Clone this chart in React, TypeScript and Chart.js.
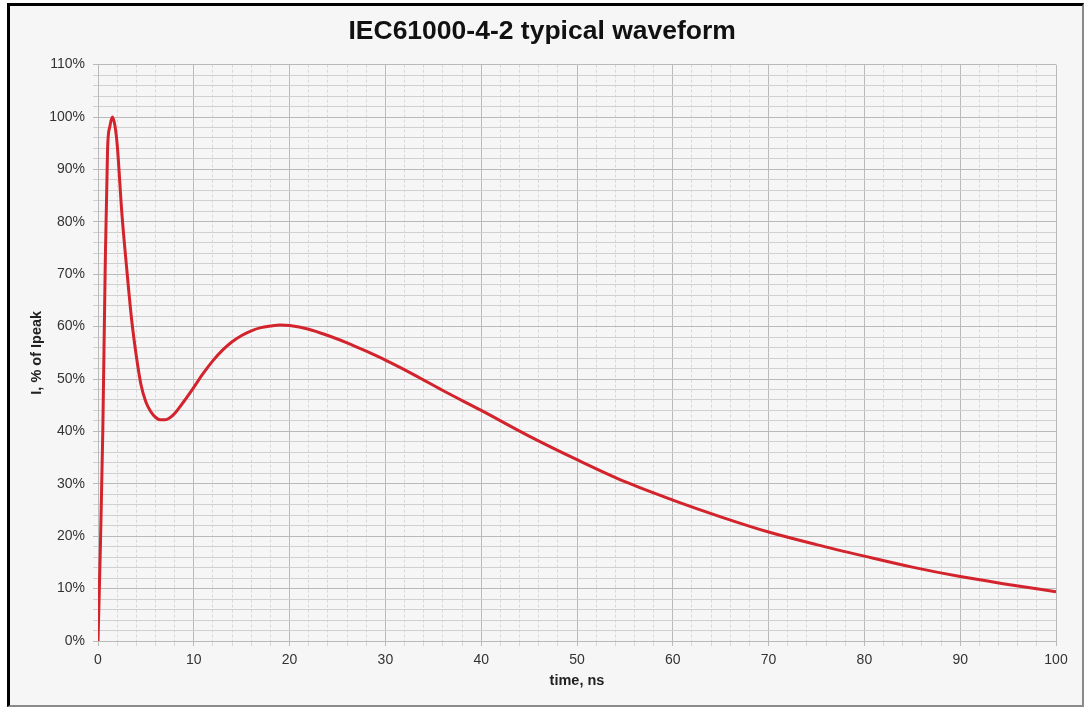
import React, { useEffect, useRef } from "react";
import { Chart, registerables } from "chart.js";

Chart.register(...registerables);

const TITLE = "IEC61000-4-2 typical waveform";
const X_TITLE = "time, ns";
const Y_TITLE = "I, % of Ipeak";

// time in ns
const timeNs = [
  0, 0.25, 0.5, 0.75, 1.0, 1.25, 1.5, 1.75, 2.0, 2.5, 3.0, 3.5, 4.0, 4.5, 5.0,
  5.5, 6.0, 6.5, 7.0, 7.5, 8.0, 9.0, 10, 11, 12, 13, 14, 15, 16, 17, 18, 19,
  20, 22, 24, 26, 28, 30, 33, 36, 40, 45, 50, 55, 60, 65, 70, 75, 80, 85, 90,
  95, 100,
];
// current in % of Ipeak
const currentPct = [
  0, 18, 40, 71, 94, 98.3, 100, 98.5, 94.8, 81.4, 71, 61.5, 54.4, 48.8, 45.6,
  43.8, 42.7, 42.2, 42.2, 42.6, 43.4, 45.8, 48.4, 51.1, 53.5, 55.5, 57.1, 58.3,
  59.2, 59.8, 60.1, 60.3, 60.2, 59.5, 58.3, 56.9, 55.3, 53.6, 50.8, 47.8, 44.0,
  39.1, 34.6, 30.4, 26.9, 23.7, 20.8, 18.4, 16.2, 14.1, 12.3, 10.8, 9.4,
];

const X_MIN = 0;
const X_MAX = 100;
const Y_MIN = 0;
const Y_MAX = 110;
const MINOR_STEP = 2;
const MAJOR_STEP = 10;

const FONT = "'Liberation Sans', Arial, Helvetica, sans-serif";
const MAJOR_COLOR = "#bababa";
const MINOR_H_COLOR = "#d0d0d0";
const MINOR_V_COLOR = "#d8d8d8";

function isMajor(v: number) {
  return Math.abs(Math.round(v) % MAJOR_STEP) === 0;
}

export default function App() {
  const canvasRef = useRef<HTMLCanvasElement | null>(null);

  useEffect(() => {
    const canvas = canvasRef.current;
    if (!canvas) return;
    const points = timeNs.map((t, i) => ({ x: t, y: currentPct[i] }));

    const chart = new Chart(canvas, {
      type: "line",
      data: {
        datasets: [
          {
            label: "I",
            data: points,
            borderColor: "#d3232c",
            borderWidth: 3,
            pointRadius: 0,
            fill: false,
            cubicInterpolationMode: "monotone",
          },
        ],
      },
      options: {
        animation: false,
        responsive: false,
        maintainAspectRatio: false,
        layout: { padding: { left: 28.3, right: 30, top: 0, bottom: 20.3 } },
        plugins: {
          legend: { display: false },
          tooltip: { enabled: false },
          title: {
            display: true,
            text: TITLE,
            color: "#111",
            font: { family: FONT, size: 26.5, weight: "bold", lineHeight: 1.2 },
            padding: { top: 15.4, bottom: 17.4 },
          },
        },
        scales: {
          x: {
            type: "linear",
            min: X_MIN,
            max: X_MAX,
            afterFit: (s: any) => {
              s.height = 48.7;
            },
            ticks: {
              stepSize: MINOR_STEP,
              autoSkip: false,
              maxRotation: 0,
              padding: 6,
              color: "#333",
              font: { family: FONT, size: 14 },
              callback: (v: any) => (isMajor(Number(v)) ? String(Math.round(Number(v))) : ""),
            },
            grid: {
              tickLength: 5,
              lineWidth: 1,
              color: (c: any) =>
                c.tick && isMajor(c.tick.value) ? MAJOR_COLOR : MINOR_V_COLOR,
            },
            border: {
              display: true,
              color: MAJOR_COLOR,
              dash: (c: any) =>
                c.tick && !isMajor(c.tick.value) ? [3, 2] : [],
            },
            title: {
              display: true,
              text: X_TITLE,
              color: "#222",
              font: { family: FONT, size: 14.5, weight: "bold", lineHeight: 1.2 },
              padding: 0,
            },
          },
          y: {
            type: "linear",
            min: Y_MIN,
            max: Y_MAX,
            afterFit: (s: any) => {
              s.width = 69.7;
            },
            ticks: {
              stepSize: MINOR_STEP,
              autoSkip: false,
              padding: 8,
              color: "#333",
              font: { family: FONT, size: 14 },
              callback: (v: any) =>
                isMajor(Number(v)) ? Math.round(Number(v)) + "%" : "",
            },
            grid: {
              tickLength: 5,
              lineWidth: 1,
              color: (c: any) =>
                c.tick && isMajor(c.tick.value) ? MAJOR_COLOR : MINOR_H_COLOR,
            },
            border: { display: true, color: MAJOR_COLOR },
            title: {
              display: true,
              text: Y_TITLE,
              color: "#222",
              font: { family: FONT, size: 14.5, weight: "bold", lineHeight: 1.2 },
              padding: 0,
            },
          },
        },
      },
    } as any);

    return () => {
      chart.destroy();
    };
  }, []);

  return (
    <div>
      <div
        style={{
          position: "fixed",
          left: 7,
          top: 3,
          width: 1077,
          height: 704,
          boxSizing: "border-box",
          background: "#f5f6f5",
          borderTop: "3px solid #000",
          borderLeft: "3px solid #000",
          borderRight: "2px solid #8a8a8a",
          borderBottom: "2px solid #8a8a8a",
        }}
      />
      <canvas
        ref={canvasRef}
        width={1086}
        height={710}
        style={{ position: "fixed", left: 0, top: 0, width: 1086, height: 710 }}
      />
    </div>
  );
}
